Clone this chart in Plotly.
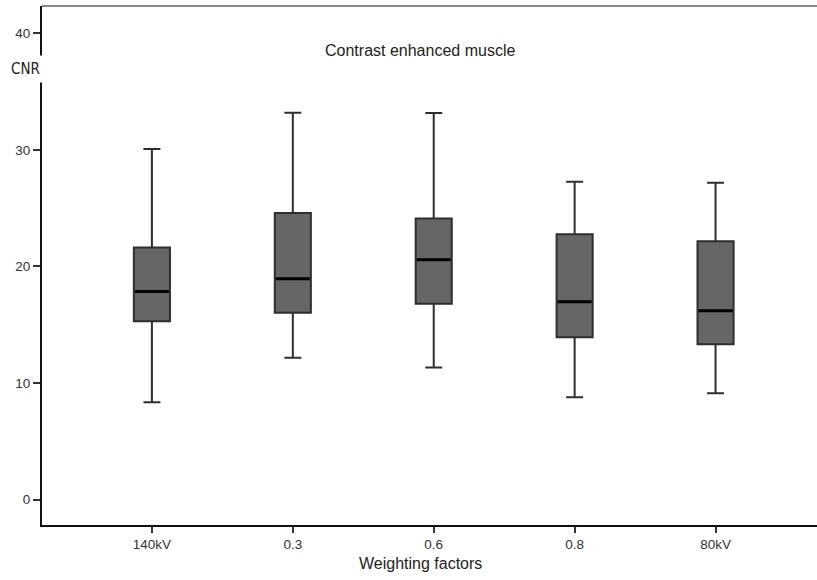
import plotly.graph_objects as go

# Weighting factor groups and box statistics (CNR)
categories = ["140kV", "0.3", "0.6", "0.8", "80kV"]
lower_whisker = [8.35, 12.16, 11.33, 8.78, 9.12]
q1 = [15.30, 16.02, 16.80, 13.93, 13.33]
median = [17.85, 18.94, 20.57, 16.97, 16.20]
q3 = [21.63, 24.58, 24.12, 22.77, 22.17]
upper_whisker = [30.07, 33.19, 33.16, 27.27, 27.18]

y_ticks = [0, 10, 20, 30, 40]

positions = list(range(len(categories)))
box_width = 0.256
font_family = "Liberation Sans, Arial, sans-serif"
narrow_family = "DejaVu Sans Condensed, Liberation Sans Narrow, sans-serif"

fig = go.Figure()

fig.add_trace(go.Box(
    x=positions,
    q1=q1,
    median=median,
    q3=q3,
    lowerfence=lower_whisker,
    upperfence=upper_whisker,
    width=box_width,
    whiskerwidth=0.47,
    fillcolor="#666666",
    line=dict(color="#2e2e2e", width=2),
    boxpoints=False,
    showlegend=False,
    hoverinfo="skip",
))

# Heavier median bars drawn over each box
mx, my = [], []
for p, m in zip(positions, median):
    mx += [p - box_width / 2 + 0.008, p + box_width / 2 - 0.008, None]
    my += [m, m, None]
fig.add_trace(go.Scatter(
    x=mx, y=my, mode="lines",
    line=dict(color="#000000", width=3),
    showlegend=False, hoverinfo="skip",
))

fig.update_layout(
    width=817,
    height=580,
    margin=dict(l=42, r=0, t=6, b=55),
    paper_bgcolor="white",
    plot_bgcolor="white",
    font=dict(family=font_family, size=13, color="#333333"),
    xaxis=dict(
        range=[-0.78, 4.72],
        tickmode="array",
        tickvals=positions,
        ticktext=categories,
        showgrid=False,
        zeroline=False,
        showline=True,
        linecolor="#111111",
        linewidth=2,
        ticks="outside",
        ticklen=6,
        tickwidth=2,
        tickcolor="#333333",
        tickfont=dict(size=13.5, color="#333333"),
    ),
    yaxis=dict(
        range=[-2.18, 42.34],
        tickmode="array",
        tickvals=y_ticks,
        showgrid=False,
        zeroline=False,
        showline=True,
        linecolor="#111111",
        linewidth=2,
        ticks="outside",
        ticklen=7,
        tickwidth=2,
        tickcolor="#333333",
        tickfont=dict(size=13.5, color="#333333"),
    ),
    shapes=[dict(
        type="line", xref="paper", yref="paper",
        x0=0, x1=1, y0=1, y1=1,
        line=dict(color="#888888", width=2),
    )],
    annotations=[
        dict(
            text="Contrast enhanced muscle",
            xref="paper", yref="paper", x=0.488, y=(580 - 55 - 50) / 519,
            xanchor="center", yanchor="middle", showarrow=False,
            font=dict(size=16, color="#222222", family=font_family),
        ),
        dict(
            text="Weighting factors",
            xref="paper", yref="paper", x=0.489, y=-(563 - 525) / 519,
            xanchor="center", yanchor="middle", showarrow=False,
            font=dict(size=16, color="#222222", family=font_family),
        ),
        dict(
            text="CNR",
            xref="paper", yref="y", x=0, y=36.95,
            xanchor="right", yanchor="middle", xshift=3, showarrow=False,
            bgcolor="white", borderpad=4,
            font=dict(size=15, color="#222222", family=narrow_family),
        ),
    ],
)

fig.write_html("out.html")
